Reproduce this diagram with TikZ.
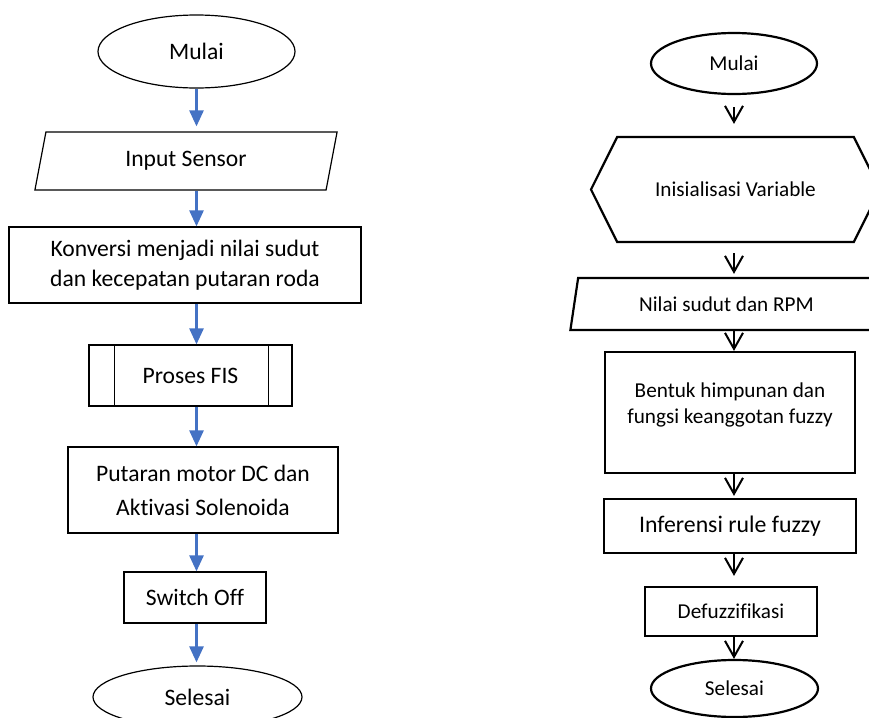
\documentclass[tikz,border=0pt]{standalone}
\usepackage{fontspec}
\setmainfont{Carlito}[Ligatures={NoCommon,NoContextual}]
\usetikzlibrary{shapes.geometric,shapes.symbols,arrows.meta}
\definecolor{pfeilblau}{HTML}{4472C4}

\begin{document}
\begin{tikzpicture}[x=0.5pt,y=-0.5pt,
  ende/.style={ellipse, draw, inner sep=0pt},
  kasten/.style={rectangle, draw, inner sep=0pt, align=center},
  eingabe/.style={trapezium, draw, trapezium stretches=true, inner sep=0pt},
  blaupfeil/.style={color=pfeilblau, line width=1.3pt, -{Triangle[width=7pt,length=8pt]}},
  vpfeil/.style={line width=1pt, -{Straight Barb[width=9pt,length=8pt]}},
  links/.style={font=\fontsize{11.8}{15}\selectfont, line width=0.6pt},
  rechts/.style={font=\fontsize{10.6}{13}\selectfont, line width=1.1pt}]
  \useasboundingbox (0,0) rectangle (869,718);

  % Linkes Flussdiagramm
  \node[ende, links, minimum width=98.5pt, minimum height=36.5pt] (mulaiL) at (196.5,51.5) {Mulai};
  \node[eingabe, links, trapezium left angle=76, trapezium right angle=104,
        minimum width=152pt, minimum height=29pt] (input) at (186,161) {Input Sensor};
  \node[kasten, links, minimum width=176pt, minimum height=38pt] (konversi) at (185,265)
       {Konversi menjadi nilai sudut\\dan kecepatan putaran roda};
  \node[kasten, links, minimum width=101.5pt, minimum height=30.5pt] (fis) at (190.5,375.5) {Proses FIS};
  % Seitenstreifen Unterprogramm
  \draw[links] ([xshift=13pt]fis.north west) -- ([xshift=13pt]fis.south west);
  \draw[links] ([xshift=-12pt]fis.north east) -- ([xshift=-12pt]fis.south east);
  \node[kasten, links, font=\fontsize{11.8}{17}\selectfont, minimum width=135pt, minimum height=43pt]
       (putaran) at (203,490) {Putaran motor DC dan\\Aktivasi Solenoida};
  \node[kasten, links, minimum width=71pt, minimum height=25.5pt] (switch) at (195,597.5) {Switch Off};
  \node[ende, links, minimum width=104.5pt, minimum height=31pt] (selesaiL) at (197.5,697) {Selesai};

  \draw[blaupfeil, shorten >=2.5pt] (mulaiL.south) -- (mulaiL.south |- input.north);
  \draw[blaupfeil] (mulaiL.south |- input.south) -- (mulaiL.south |- konversi.north);
  \draw[blaupfeil] (mulaiL.south |- konversi.south) -- (mulaiL.south |- fis.north);
  \draw[blaupfeil] (mulaiL.south |- fis.south) -- (mulaiL.south |- putaran.north);
  \draw[blaupfeil] (mulaiL.south |- putaran.south) -- (mulaiL.south |- switch.north);
  \draw[blaupfeil, shorten >=1.5pt] (mulaiL.south |- switch.south) -- (mulaiL.south |- selesaiL.north);

  % Rechtes Flussdiagramm
  \node[ende, rechts, minimum width=83pt, minimum height=30.5pt] (mulaiR) at (734,63.5) {Mulai};
  \node[signal, draw, rechts, signal to=west and east, signal pointer angle=127, inner sep=0pt,
        minimum width=144.5pt, minimum height=52.5pt] (inisial) at (735.5,189.5) {Inisialisasi Variable};
  \node[eingabe, rechts, trapezium left angle=73, trapezium right angle=107,
        minimum width=157.5pt, minimum height=26pt] (nilai) at (726.5,304) {Nilai sudut dan RPM};
  \node[kasten, rechts, minimum width=125pt, minimum height=60.5pt] (bentuk) at (730,412.5) {};
  \node[rechts, align=center] (bentukteks) at (730,405) {Bentuk himpunan dan\\fungsi keanggotan fuzzy};
  \node[kasten, rechts, font=\fontsize{11.9}{14}\selectfont, minimum width=126pt, minimum height=27pt]
       (inferensi) at (730,526) {Inferensi rule fuzzy};
  \node[kasten, rechts, minimum width=86pt, minimum height=24.5pt] (defuzz) at (731,611.5) {Defuzzifikasi};
  \node[ende, rechts, minimum width=83.5pt, minimum height=28.5pt] (selesaiR) at (734.5,688.5) {Selesai};

  \draw[vpfeil, shorten <=6pt, shorten >=6pt] (mulaiR.south) -- (mulaiR.south |- inisial.north);
  \draw[vpfeil, shorten <=5pt, shorten >=1.5pt] (mulaiR.south |- inisial.south) -- (mulaiR.south |- nilai.north);
  \draw[vpfeil] (mulaiR.south |- nilai.south) -- (mulaiR.south |- bentuk.north);
  \draw[vpfeil, shorten >=1pt] (mulaiR.south |- bentuk.south) -- (mulaiR.south |- inferensi.north);
  \draw[vpfeil, shorten >=5pt] (mulaiR.south |- inferensi.south) -- (mulaiR.south |- defuzz.north);
  \draw[vpfeil] (mulaiR.south |- defuzz.south) -- (mulaiR.south |- selesaiR.north);
\end{tikzpicture}
\end{document}
